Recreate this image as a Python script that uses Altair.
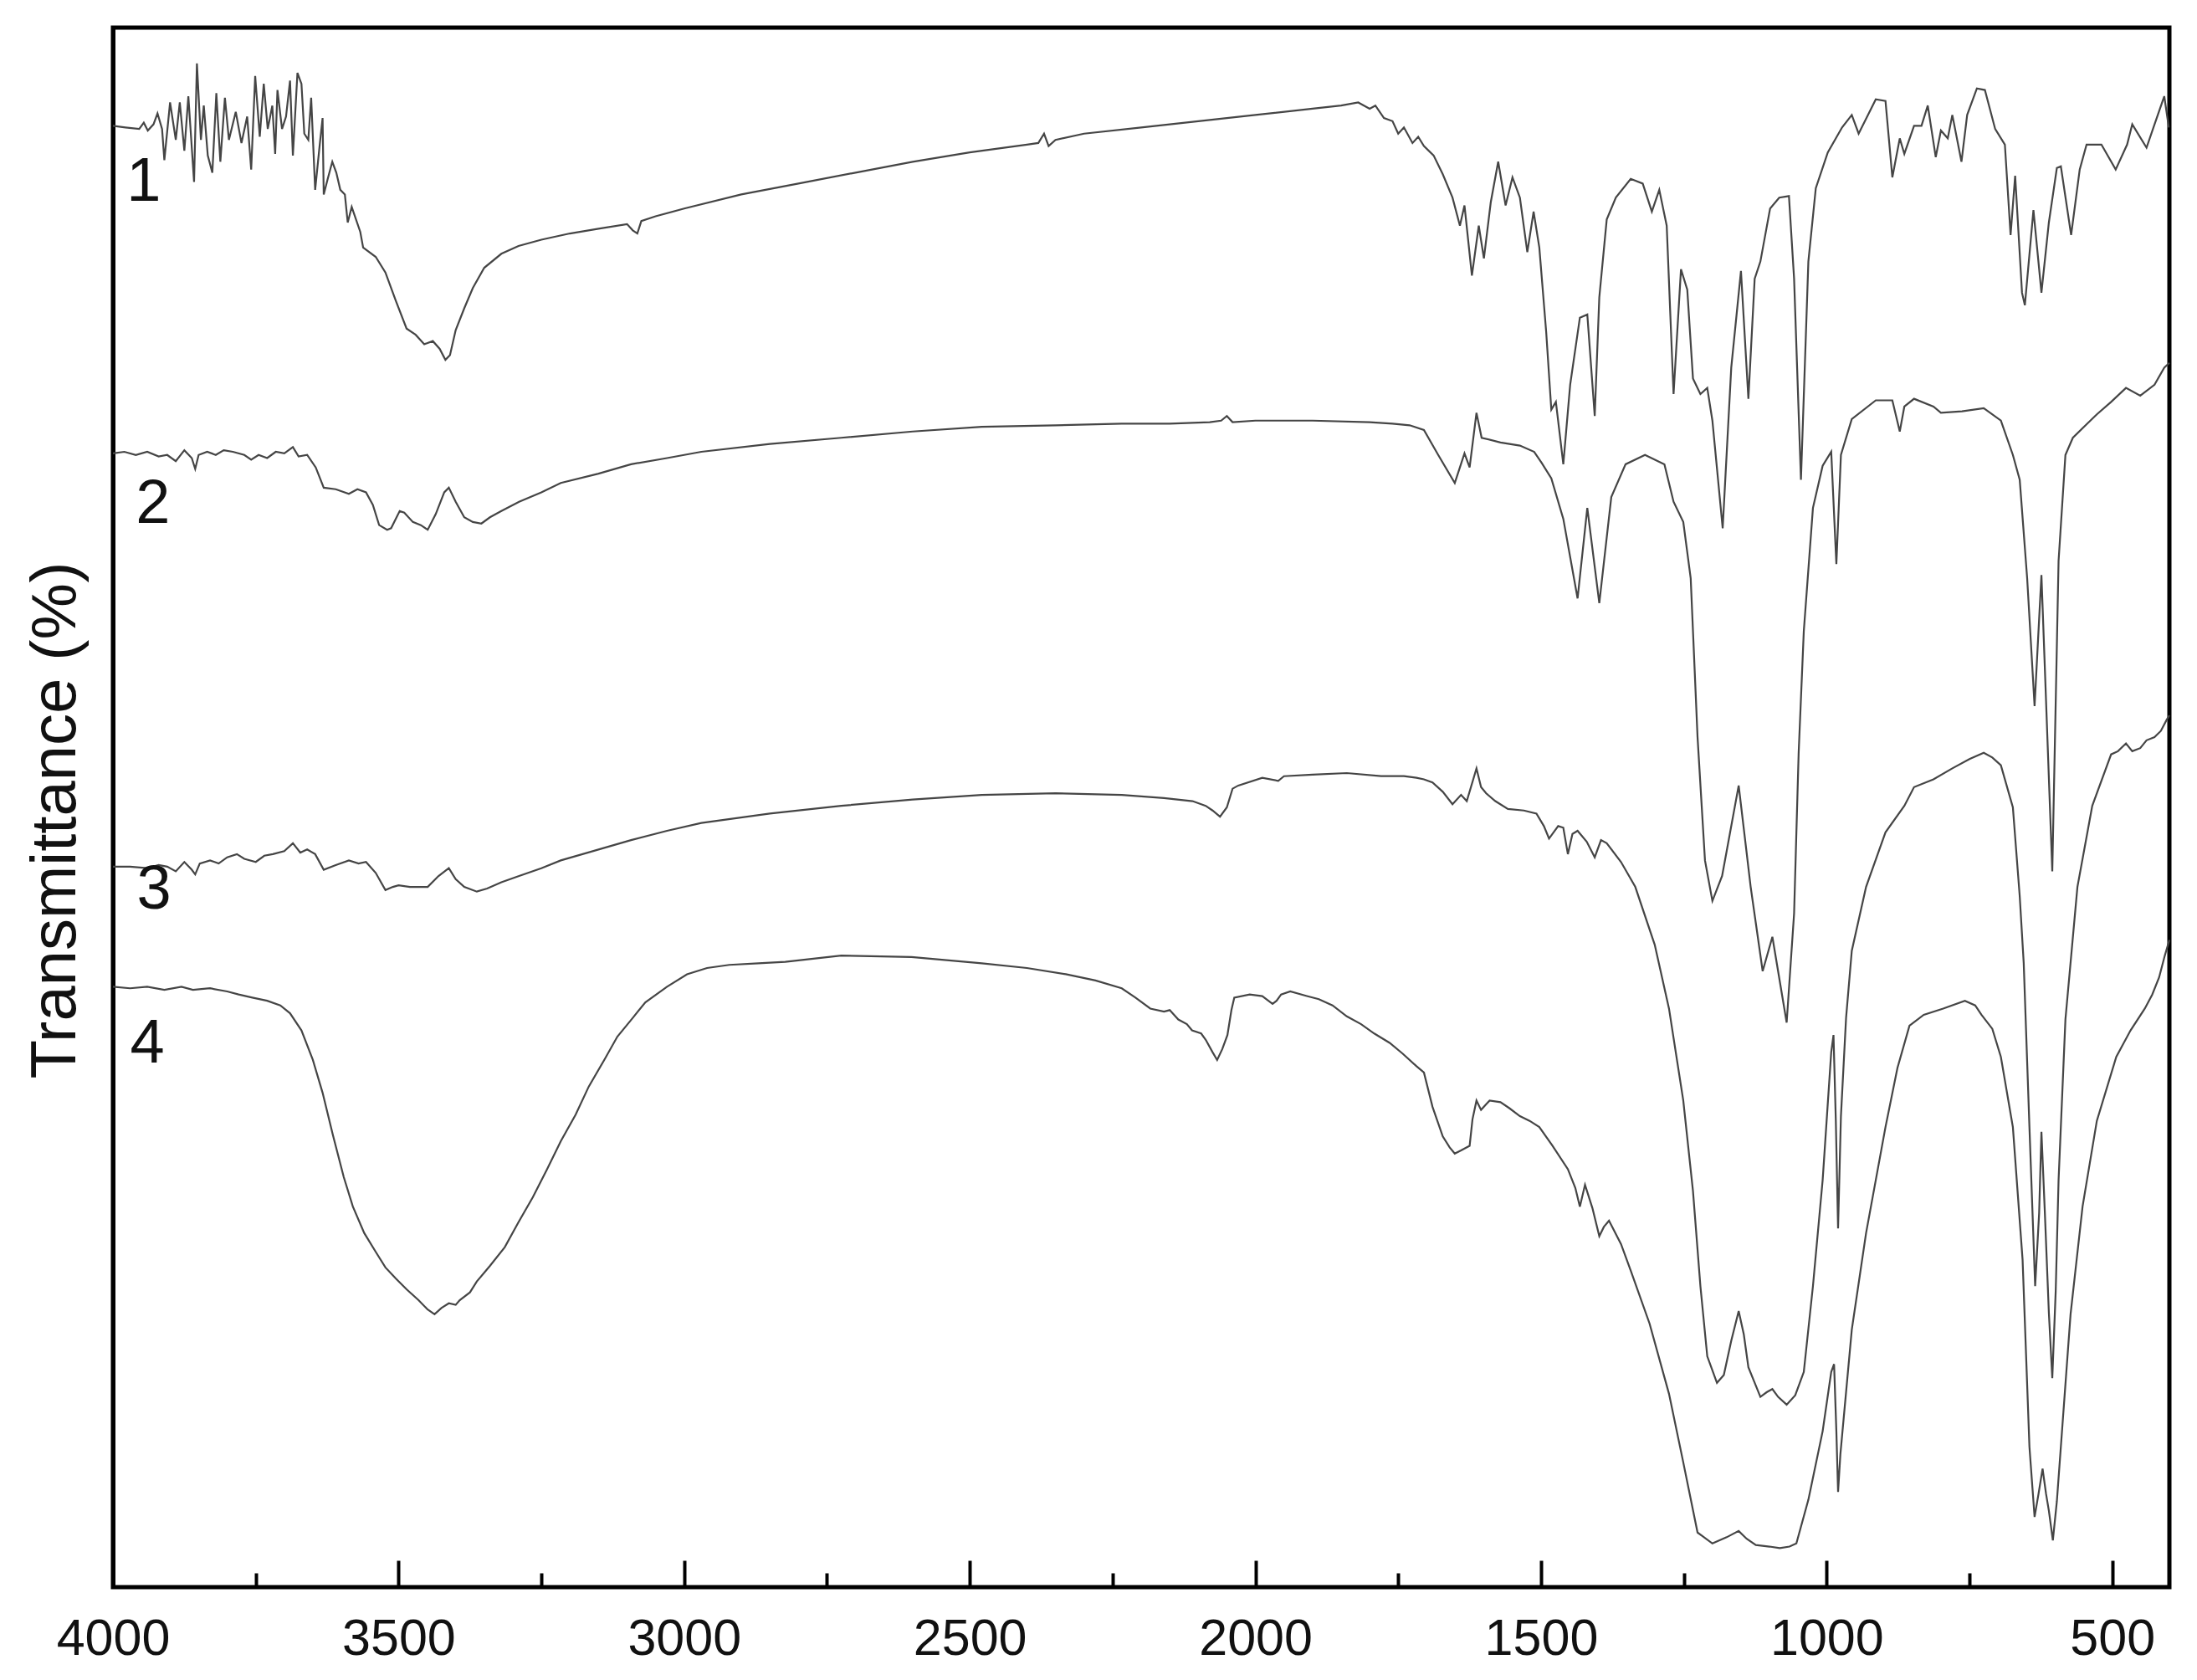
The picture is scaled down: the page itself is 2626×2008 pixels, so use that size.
import altair as alt
import pandas as pd

# ---------------- data (wavenumber cm-1, transmittance in arbitrary % scale) ----------------
wn1 = [4000, 3978, 3954, 3946, 3939, 3929, 3922, 3914, 3910, 3900, 3890, 3883, 3875, 3868, 3858, 3853,
       3846, 3841, 3834, 3826, 3819, 3812, 3804, 3797, 3785, 3775, 3765, 3758, 3751, 3743, 3736, 3729,
       3721, 3716, 3712, 3704, 3697, 3690, 3685, 3677, 3670, 3665, 3658, 3653, 3646, 3638, 3633, 3631,
       3624, 3616, 3609, 3602, 3594, 3589, 3582, 3567, 3562, 3540, 3523, 3505, 3486, 3470, 3455, 3440,
       3428, 3418, 3410, 3400, 3385, 3370, 3350, 3320, 3290, 3250, 3200, 3150, 3100, 3090, 3082, 3075,
       3050, 3000, 2900, 2800, 2700, 2600, 2500, 2400, 2380, 2370, 2362, 2350, 2300, 2200, 2100, 2000,
       1900, 1850, 1820, 1800, 1790, 1775, 1760, 1750, 1740, 1725, 1715, 1705, 1688, 1672, 1655, 1642,
       1634, 1621, 1609, 1600, 1588, 1575, 1562, 1550, 1537, 1524, 1513, 1503, 1491, 1482, 1474, 1461,
       1449, 1432, 1419, 1406, 1398, 1385, 1369, 1343, 1322, 1306, 1293, 1280, 1268, 1255, 1244, 1234,
       1221, 1209, 1200, 1182, 1167, 1150, 1137, 1126, 1116, 1099, 1083, 1066, 1057, 1045, 1032, 1019,
       998, 973, 956, 944, 914, 897, 885, 872, 864, 847, 834, 823, 809, 800, 788, 780, 764, 754, 737,
       723, 705, 688, 678, 670, 658, 653, 638, 624, 611, 597, 590, 572, 557, 545, 519, 494, 474, 465,
       440, 426, 409, 401]
t1 = [93.7, 93.6, 93.5, 93.9, 93.4, 93.8, 94.5, 93.5, 91.5, 95.2, 92.8, 95.2, 92.1, 95.6, 90.1, 97.7,
      92.8, 95.0, 91.8, 90.7, 95.8, 91.4, 95.5, 92.8, 94.6, 92.6, 94.3, 90.9, 96.9, 93.0, 96.4, 93.5,
      95.0, 91.9, 96.0, 93.5, 94.3, 96.6, 91.8, 97.1, 96.4, 93.2, 92.8, 95.5, 89.6, 92.5, 94.2, 89.3,
      90.3, 91.4, 90.7, 89.6, 89.3, 87.5, 88.5, 86.9, 85.9, 85.3, 84.3, 82.5, 80.7, 80.3, 79.7, 79.9,
      79.4, 78.7, 79.0, 80.6, 82.0, 83.3, 84.6, 85.5, 86.0, 86.4, 86.8, 87.1, 87.4, 87.0, 86.8, 87.6,
      87.9, 88.4, 89.3, 90.0, 90.7, 91.4, 92.0, 92.5, 92.6, 93.2, 92.4, 92.8, 93.2, 93.6, 94.0, 94.4,
      94.8, 95.0, 95.2, 94.8, 95.0, 94.2, 94.0, 93.2, 93.6, 92.6, 93.0, 92.4, 91.8, 90.6, 89.1, 87.3,
      88.6, 84.1, 87.3, 85.2, 88.8, 91.4, 88.6, 90.4, 89.1, 85.6, 88.2, 85.9, 80.5, 75.5, 76.0, 72.0,
      77.1, 81.4, 81.6, 75.1, 82.7, 87.7, 89.1, 90.3, 90.0, 88.2, 89.6, 87.3, 76.5, 84.5, 83.2, 77.5,
      76.5, 76.9, 74.8, 67.9, 78.2, 84.4, 76.2, 83.9, 85.0, 88.4, 89.1, 89.2, 83.9, 71.0, 85.0, 89.7,
      92.0, 93.6, 94.4, 93.2, 95.4, 95.3, 90.4, 92.9, 91.9, 93.7, 93.7, 95.0, 91.7, 93.4, 92.9, 94.4,
      91.4, 94.4, 96.1, 96.0, 93.5, 92.5, 86.7, 90.5, 83.0, 82.2, 88.3, 83.0, 87.5, 91.0, 91.1, 86.7,
      90.9, 92.5, 92.5, 90.9, 92.5, 93.8, 92.3, 93.8, 95.6, 93.6]

wn2 = [4000, 3980, 3960, 3940, 3920, 3905, 3890, 3875, 3862, 3856, 3850, 3835, 3820, 3806, 3790, 3770,
       3758, 3745, 3730, 3715, 3700, 3685, 3675, 3660, 3645, 3631, 3610, 3587, 3572, 3557, 3545, 3534,
       3520, 3513, 3498, 3490, 3475, 3461, 3449, 3435, 3420, 3412, 3400, 3385, 3370, 3355, 3340, 3320,
       3289, 3250, 3216, 3150, 3093, 3030, 2970, 2850, 2725, 2600, 2479, 2350, 2234, 2150, 2080, 2060,
       2050, 2040, 2000, 1900, 1800, 1760, 1730, 1705, 1680, 1651, 1634, 1625, 1613, 1604, 1571, 1537,
       1512, 1499, 1482, 1461, 1436, 1419, 1398, 1377, 1352, 1318, 1284, 1268, 1251, 1238, 1226, 1213,
       1200, 1183, 1154, 1133, 1112, 1095, 1070, 1057, 1049, 1040, 1024, 1007, 992, 983, 975, 956, 914,
       885, 872, 864, 847, 813, 800, 763, 725, 695, 674, 662, 649, 636, 624, 605, 594, 582, 569, 544,
       527, 502, 476, 451, 426, 409, 400]
t2 = [72.7, 72.8, 72.6, 72.8, 72.5, 72.6, 72.2, 72.9, 72.4, 71.7, 72.6, 72.8, 72.6, 72.9, 72.8, 72.6,
      72.3, 72.6, 72.4, 72.8, 72.7, 73.1, 72.5, 72.6, 71.8, 70.5, 70.4, 70.1, 70.4, 70.2, 69.4, 68.1,
      67.8, 67.9, 69.0, 68.9, 68.3, 68.1, 67.8, 68.8, 70.2, 70.5, 69.6, 68.6, 68.3, 68.2, 68.6, 69.0,
      69.6, 70.2, 70.8, 71.4, 72.0, 72.4, 72.8, 73.3, 73.7, 74.1, 74.4, 74.5, 74.6, 74.6, 74.7, 74.8,
      75.1, 74.7, 74.8, 74.8, 74.7, 74.6, 74.5, 74.2, 72.6, 70.8, 72.7, 71.8, 75.3, 73.7, 73.4, 73.2,
      72.8, 72.1, 71.1, 68.5, 63.4, 69.2, 63.1, 69.9, 72.0, 72.6, 72.0, 69.6, 68.3, 64.7, 54.5, 46.6,
      44.0, 45.6, 51.4, 44.9, 39.5, 41.7, 36.2, 43.2, 53.5, 61.3, 69.2, 71.9, 72.8, 65.6, 72.6, 74.9,
      76.1, 76.1, 74.1, 75.7, 76.2, 75.7, 75.3, 75.4, 75.6, 74.8, 72.6, 71.0, 64.7, 56.5, 64.9, 45.9,
      65.8, 72.6, 73.7, 74.6, 75.2, 76.0, 76.9, 76.4, 77.1, 78.2, 78.5]

wn3 = [4000, 3970, 3940, 3920, 3905, 3890, 3875, 3862, 3856, 3848, 3830, 3815, 3800, 3783, 3770, 3750,
       3735, 3720, 3700, 3685, 3672, 3660, 3646, 3631, 3610, 3587, 3570, 3557, 3540, 3523, 3510, 3500,
       3480, 3465, 3449, 3430, 3412, 3400, 3385, 3363, 3345, 3320, 3289, 3250, 3216, 3150, 3093, 3030,
       2970, 2850, 2725, 2600, 2479, 2350, 2234, 2160, 2110, 2087, 2075, 2062, 2050, 2040, 2030, 1988,
       1960, 1950, 1900, 1840, 1780, 1740, 1718, 1705, 1690, 1672, 1655, 1640, 1630, 1613, 1605, 1596,
       1580, 1558, 1530, 1508, 1495, 1486, 1470, 1461, 1453, 1445, 1436, 1420, 1406, 1395, 1385, 1360,
       1335, 1301, 1276, 1251, 1234, 1221, 1209, 1192, 1180, 1167, 1154, 1145, 1137, 1116, 1105, 1095,
       1085, 1070, 1055, 1040, 1024, 1007, 992, 988, 984, 980, 975, 966, 956, 931, 897, 864, 847, 813,
       780, 750, 725, 710, 695, 674, 662, 655, 645, 635, 628, 624, 618, 611, 605, 599, 594, 582, 561,
       535, 502, 490, 476, 465, 451, 440, 426, 415, 405, 400]
t3 = [46.2, 46.2, 46.1, 46.3, 46.2, 45.9, 46.5, 46.0, 45.7, 46.4, 46.6, 46.4, 46.8, 47.0, 46.7, 46.5,
      46.9, 47.0, 47.2, 47.7, 47.1, 47.3, 47.0, 46.0, 46.3, 46.6, 46.4, 46.5, 45.8, 44.7, 44.9, 45.0,
      44.9, 44.9, 44.9, 45.6, 46.1, 45.4, 44.9, 44.6, 44.8, 45.2, 45.6, 46.1, 46.6, 47.3, 47.9, 48.5,
      49.0, 49.6, 50.1, 50.5, 50.8, 50.9, 50.8, 50.6, 50.4, 50.1, 49.8, 49.4, 50.0, 51.2, 51.4, 51.9,
      51.7, 52.0, 52.1, 52.2, 52.0, 52.0, 51.9, 51.8, 51.6, 51.0, 50.2, 50.8, 50.4, 52.5, 51.3, 50.9,
      50.4, 49.9, 49.8, 49.6, 48.8, 48.0, 48.8, 48.7, 47.0, 48.3, 48.5, 47.8, 46.8, 47.9, 47.7, 46.5,
      44.9, 41.2, 37.1, 31.2, 25.4, 19.3, 14.8, 13.1, 13.6, 15.8, 17.7, 16.2, 14.1, 12.2, 12.5, 12.7,
      12.2, 11.7, 12.3, 13.8, 19.3, 26.1, 34.3, 35.4, 30.0, 23.0, 30.2, 36.5, 40.8, 44.9, 48.4, 50.1,
      51.3, 51.8, 52.5, 53.1, 53.5, 53.2, 52.7, 50.0, 44.3, 40.0, 29.5, 19.3, 24.0, 29.2, 24.0, 17.6,
      13.4, 19.0, 26.1, 36.4, 44.9, 50.1, 53.4, 53.6, 54.1, 53.6, 53.8, 54.3, 54.5, 54.9, 55.6, 55.9]

wn4 = [4000, 3970, 3940, 3910, 3880, 3860, 3830, 3800, 3780, 3756, 3730, 3707, 3690, 3670, 3650, 3633,
       3615, 3596, 3580, 3560, 3540, 3523, 3505, 3486, 3465, 3449, 3437, 3425, 3412, 3400, 3393, 3375,
       3363, 3340, 3314, 3290, 3265, 3240, 3216, 3190, 3167, 3140, 3117, 3090, 3068, 3030, 2995, 2960,
       2921, 2870, 2823, 2725, 2602, 2479, 2400, 2332, 2280, 2234, 2210, 2184, 2160, 2150, 2135, 2120,
       2111, 2095, 2087, 2075, 2067, 2058, 2049, 2042, 2037, 2010, 1988, 1970, 1963, 1955, 1939, 1910,
       1889, 1865, 1840, 1815, 1792, 1765, 1742, 1718, 1705, 1690, 1672, 1660, 1651, 1640, 1625, 1620,
       1613, 1605, 1590, 1571, 1555, 1537, 1520, 1503, 1480, 1453, 1440, 1432, 1423, 1410, 1398, 1390,
       1381, 1360, 1343, 1310, 1276, 1251, 1226, 1200, 1175, 1154, 1140, 1124, 1100, 1082, 1065, 1053,
       1032, 1007, 992, 987, 983, 980, 976, 973, 956, 931, 897, 876, 855, 830, 796, 758, 740, 729, 710,
       695, 674, 657, 645, 636, 629, 622, 616, 611, 604, 597, 590, 573, 552, 527, 493, 468, 443, 430,
       418, 408, 400]
t4 = [38.5, 38.4, 38.5, 38.3, 38.5, 38.3, 38.4, 38.2, 38.0, 37.8, 37.6, 37.3, 36.8, 35.7, 33.8, 31.7,
      29.0, 26.3, 24.4, 22.7, 21.5, 20.5, 19.8, 19.1, 18.4, 17.8, 17.5, 17.9, 18.2, 18.1, 18.4, 18.9,
      19.6, 20.6, 21.8, 23.4, 25.0, 26.8, 28.6, 30.3, 32.1, 33.8, 35.3, 36.5, 37.5, 38.5, 39.3, 39.7,
      39.9, 40.0, 40.1, 40.5, 40.4, 40.0, 39.7, 39.3, 38.9, 38.4, 37.8, 37.1, 36.9, 37.0, 36.4, 36.1,
      35.7, 35.5, 35.1, 34.3, 33.8, 34.5, 35.4, 37.0, 37.8, 38.0, 37.9, 37.4, 37.6, 38.0, 38.2, 37.9,
      37.7, 37.3, 36.6, 36.1, 35.5, 34.9, 34.2, 33.4, 33.0, 30.8, 28.9, 28.2, 27.8, 28.0, 28.3, 30.0,
      31.2, 30.6, 31.2, 31.1, 30.7, 30.2, 29.9, 29.5, 28.3, 26.8, 25.6, 24.4, 25.8, 24.3, 22.5, 23.1,
      23.5, 22.0, 20.3, 16.9, 12.4, 8.0, 3.5, 2.8, 3.2, 3.6, 3.1, 2.7, 2.6, 2.5, 2.6, 2.8,
      5.6, 10.0, 13.8, 14.3, 10.0, 6.1, 8.5, 9.7, 16.5, 22.7, 29.5, 33.3, 36.0, 36.7, 37.1, 37.6, 37.3,
      36.7, 35.8, 34.0, 29.5, 21.0, 9.0, 4.5, 6.0, 7.6, 6.0, 4.9, 3.0, 5.5, 9.0, 17.5, 24.4, 29.9,
      34.0, 35.7, 37.1, 38.0, 39.1, 40.5, 41.5]

curve_names = ["1", "2", "3", "4"]
label_wn = [3946, 3930, 3928, 3940]
label_t = [90.1, 69.4, 44.7, 34.8]

major_ticks = [4000, 3500, 3000, 2500, 2000, 1500, 1000, 500]
minor_ticks = [3750, 3250, 2750, 2250, 1750, 1250, 750]

# ---------------- tables ----------------
rows = []
for name, ws, ts in zip(curve_names, [wn1, wn2, wn3, wn4], [t1, t2, t3, t4]):
    for w, t in zip(ws, ts):
        rows.append({"curve": name, "wn": w, "t": t})
spectra = pd.DataFrame(rows)
labels = pd.DataFrame({"curve": curve_names, "wn": label_wn, "t": label_t})
minor_df = pd.DataFrame({"wn": minor_ticks})

FONT = "Liberation Sans"
W, H = 2458, 1864

xscale = alt.Scale(domain=[4000, 400], nice=False, zero=False)
yscale = alt.Scale(domain=[0, 100], nice=False, zero=False)

label_axis = alt.Axis(orient="bottom", values=major_ticks, format="d", ticks=False, domain=False,
                      grid=False, labelFont=FONT, labelFontSize=61, labelColor="#111111",
                      labelPadding=32, labelFlush=False, labelOverlap=False)
major_axis = alt.Axis(orient="bottom", values=major_ticks, labels=False, domain=False, grid=False,
                      ticks=True, tickSize=32, tickWidth=4, tickColor="#000000", offset=-32)
minor_axis = alt.Axis(orient="bottom", values=minor_ticks, labels=False, domain=False, grid=False,
                      ticks=True, tickSize=17, tickWidth=4, tickColor="#000000", offset=-17)

# the y axis keeps its domain line (it sits exactly on the frame) so the axis is not empty
y_axis = alt.Axis(orient="left", labels=False, ticks=False, grid=False,
                  domain=True, domainColor="#000000", domainWidth=5,
                  title="Transmittance (%)", titleFont=FONT, titleFontSize=76,
                  titleFontWeight="normal", titleColor="#111111",
                  titleAngle=270, titleAlign="center", titleBaseline="alphabetic",
                  titleX=-46, titleY=947)

lines = alt.Chart(spectra).mark_line(color="#454545", strokeWidth=2.2).encode(
    x=alt.X("wn:Q", scale=xscale, axis=label_axis, title=None),
    y=alt.Y("t:Q", scale=yscale, axis=y_axis),
    detail="curve:N",
)

texts = alt.Chart(labels).mark_text(font=FONT, fontSize=74, color="#111111",
                                     align="center", baseline="middle").encode(
    x=alt.X("wn:Q", scale=xscale, axis=major_axis, title=None),
    y=alt.Y("t:Q", scale=yscale, axis=y_axis),
    text="curve:N",
)

minor = alt.Chart(minor_df).mark_rule(opacity=0).encode(
    x=alt.X("wn:Q", scale=xscale, axis=minor_axis, title=None),
)

chart = alt.layer(lines, texts, minor).resolve_axis(x="independent").properties(
    width=W, height=H,
    autosize=alt.AutoSizeParams(type="none"),
    padding={"left": 127, "top": 25, "right": 20, "bottom": 102},
    background="white",
).configure_view(stroke="#000000", strokeWidth=5)

chart.save("out.html", embed_options={"renderer": "svg", "actions": False})
